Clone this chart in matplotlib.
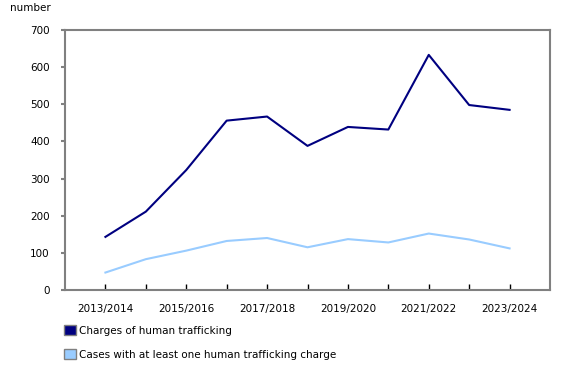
import numpy as np
import matplotlib
matplotlib.use('Agg')
from matplotlib import pyplot as plt
from matplotlib.patches import Patch

years = ['2013/2014', '2014/2015', '2015/2016', '2016/2017', '2017/2018', '2018/2019',
         '2019/2020', '2020/2021', '2021/2022', '2022/2023', '2023/2024']
charges = [143, 211, 323, 456, 467, 388, 439, 432, 633, 498, 485]
cases = [47, 83, 106, 132, 140, 115, 137, 128, 152, 136, 112]

dark = '#000080'
light = '#99ccff'
grey = '#808080'

plt.rcParams['font.family'] = 'DejaVu Sans'
plt.rcParams['font.size'] = 7.5

fig = plt.figure(figsize=(5.8, 3.7), dpi=100)
ax = fig.add_axes([65/580, 80/370, 485/580, 260/370])

x = np.arange(len(years))
ax.plot(x, charges, color=dark, lw=1.5)
ax.plot(x, cases, color=light, lw=1.5)

ax.set_xlim(-1, 11)
ax.set_ylim(0, 700)
ax.set_yticks(range(0, 701, 100))
ax.set_xticks(x)
ax.set_xticklabels([y if i % 2 == 0 else '' for i, y in enumerate(years)])

for s in ax.spines.values():
    s.set_color(grey)
    s.set_linewidth(1.5)
ax.tick_params(axis='x', direction='in', length=4, color='black', width=1, pad=10)
ax.tick_params(axis='y', direction='out', length=3, color=grey, width=1.5, pad=8)

fig.text(10/580, 1 - 8/370, 'number', ha='left', va='center', fontsize=7.5)

handles = [Patch(facecolor=dark, edgecolor=grey, label='Charges of human trafficking'),
           Patch(facecolor=light, edgecolor=grey, label='Cases with at least one human trafficking charge')]
fig.legend(handles=handles, loc='upper left', bbox_to_anchor=(55/580, 1 - 316/370),
           frameon=False, handlelength=1.1, handleheight=1.1, handletextpad=0.3,
           labelspacing=1.3, fontsize=7.5)

fig.savefig('out.png', dpi=100)
